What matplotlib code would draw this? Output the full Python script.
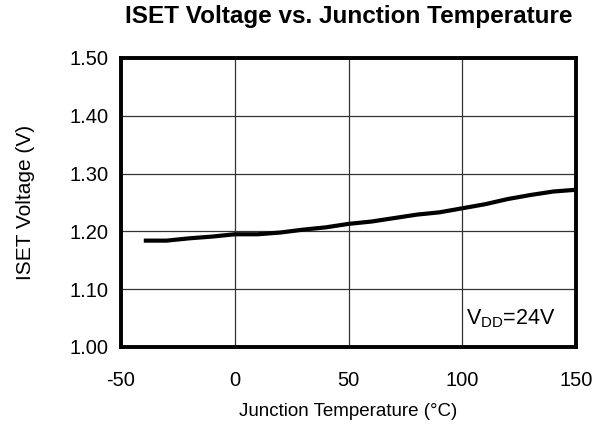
import matplotlib
matplotlib.use("Agg")
import matplotlib.pyplot as plt

temps = [-40, -30, -20, -10, 0, 10, 20, 30, 40, 50, 60, 70, 80, 90, 100, 110, 120, 130, 140, 150]
iset_v = [1.184, 1.184, 1.188, 1.191, 1.195, 1.195, 1.198, 1.203, 1.207, 1.213, 1.217, 1.223, 1.229, 1.233, 1.240, 1.247, 1.256, 1.263, 1.269, 1.272]
xticks = [-50, 0, 50, 100, 150]
yticks = [1.00, 1.10, 1.20, 1.30, 1.40, 1.50]

plt.rcParams['font.family'] = ['Liberation Sans', 'DejaVu Sans']
fig = plt.figure(figsize=(6.03, 4.28), dpi=100)
ax = fig.add_axes([0.2007, 0.1893, 0.7548, 0.6752])
ax.plot(temps, iset_v, color='black', lw=3, solid_capstyle='butt')
ax.set_xlim(-50, 150)
ax.set_ylim(1.00, 1.50)
ax.set_xticks(xticks)
ax.set_xticklabels([str(t) for t in xticks])
ax.set_yticks(yticks)
ax.set_yticklabels([f"{v:.2f}" for v in yticks])
ax.grid(True, color='#333333', lw=0.9)
ax.set_axisbelow(True)
ax.tick_params(axis='x', length=0, labelsize=14.5, pad=17)
ax.tick_params(axis='y', length=0, labelsize=14.5, pad=9)
for s in ax.spines.values():
    s.set_linewidth(2.8)
    s.set_color('black')
ax.set_xlabel('Junction Temperature (°C)', fontsize=13.5, va='center')
ax.xaxis.set_label_coords(0.5, -0.222)
ax.set_ylabel('ISET Voltage (V)', fontsize=15, va='center')
ax.yaxis.set_label_coords(-0.21, 0.5)
ax.set_title('ISET Voltage vs. Junction Temperature', fontsize=17.5, fontweight='bold', y=1.142, pad=0, va='center')
ax.text(0.954, 0.097, r'V$_{\mathregular{DD}}$=24V', transform=ax.transAxes, ha='right', va='center', fontsize=15.5)
fig.savefig('out.png', dpi=100)
